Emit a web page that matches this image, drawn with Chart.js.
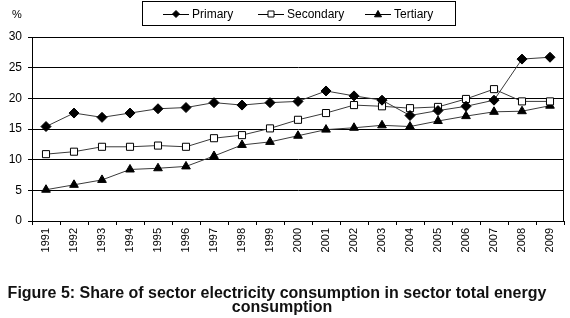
<!DOCTYPE html>
<html>
<head>
<meta charset="utf-8">
<script src="https://cdn.jsdelivr.net/npm/chart.js@4.4.0/dist/chart.umd.min.js"></script>
<style>
  html, body { margin: 0; padding: 0; background: #fff; }
  #c { display: block; }
</style>
</head>
<body>
<canvas id="c" width="570" height="318"></canvas>
<script>
// chart data
const years = ['1991','1992','1993','1994','1995','1996','1997','1998','1999','2000',
               '2001','2002','2003','2004','2005','2006','2007','2008','2009'];
const primary   = [15.4, 17.6, 16.9, 17.6, 18.3, 18.5, 19.3, 18.9, 19.3, 19.5, 21.2, 20.4, 19.7, 17.2, 18.0, 18.7, 19.7, 26.4, 26.7];
const secondary = [10.9, 11.3, 12.1, 12.1, 12.3, 12.1, 13.5, 14.0, 15.1, 16.5, 17.6, 18.9, 18.7, 18.4, 18.6, 19.9, 21.5, 19.5, 19.5];
const tertiary  = [5.1, 5.9, 6.7, 8.4, 8.6, 8.9, 10.6, 12.4, 12.9, 13.9, 14.9, 15.2, 15.6, 15.4, 16.3, 17.1, 17.8, 17.9, 18.8];
const seriesNames = ['Primary', 'Secondary', 'Tertiary'];
const yTicks = { min: 0, max: 30, step: 5 };
const yUnit = '%';
const titleLines = ['Figure 5: Share of sector electricity consumption in sector total energy', 'consumption'];

const FONT = "Arial, 'Liberation Sans', sans-serif";

function mark(ctx, style, x, y, r, fill) {
    ctx.save();
    ctx.beginPath();
    if (style === 'rectRot') {
        ctx.moveTo(x, y - r); ctx.lineTo(x + r, y); ctx.lineTo(x, y + r); ctx.lineTo(x - r, y);
    } else if (style === 'rect') {
        ctx.rect(x - r, y - r, 2 * r, 2 * r);
    } else {
        ctx.moveTo(x, y - r); ctx.lineTo(x + r, y + r * 0.8); ctx.lineTo(x - r, y + r * 0.8);
    }
    ctx.closePath();
    ctx.fillStyle = fill;
    ctx.fill();
    ctx.strokeStyle = '#000';
    ctx.lineWidth = 1;
    ctx.stroke();
    ctx.restore();
}

// frame, legend box, unit label and caption
const extras = {
    id: 'extras',
    beforeDatasetsDraw(chart) {
        const a = chart.chartArea, ctx = chart.ctx;
        ctx.save();
        ctx.strokeStyle = '#000';
        ctx.lineWidth = 1;
        ctx.strokeRect(Math.round(a.left) + 0.5, Math.round(a.top) + 0.5,
                       Math.round(a.right - a.left) - 1, Math.round(a.bottom - a.top));
        ctx.restore();
    },
    afterDraw(chart) {
        const ctx = chart.ctx;
        ctx.save();
        // legend
        ctx.strokeStyle = '#000';
        ctx.lineWidth = 1;
        ctx.strokeRect(142.5, 1.5, 313, 24);
        const lx = [163, 258, 365];
        const styles = [['rectRot', 3.5, '#000'], ['rect', 3, '#fff'], ['triangle', 3.5, '#000']];
        ctx.font = '12px ' + FONT;
        ctx.textBaseline = 'middle';
        chart.data.datasets.forEach((ds, i) => {
            const x = lx[i], y = 14;
            ctx.beginPath();
            ctx.moveTo(x, y + 0.5); ctx.lineTo(x + 26, y + 0.5);
            ctx.strokeStyle = '#000';
            ctx.stroke();
            mark(ctx, styles[i][0], x + 13, y, styles[i][1], styles[i][2]);
            ctx.fillStyle = '#000';
            ctx.textAlign = 'left';
            ctx.fillText(ds.label, x + 29, y + 1);
        });
        // unit
        ctx.font = '11px ' + FONT;
        ctx.fillText(yUnit, 12, 15);
        // caption
        ctx.font = 'bold 16px ' + FONT;
        ctx.textAlign = 'center';
        ctx.textBaseline = 'alphabetic';
        ctx.fillStyle = '#111';
        ctx.fillText(titleLines[0], 277, 298);
        ctx.fillText(titleLines[1], 282, 312);
        ctx.restore();
    }
};

const lineCol = '#3a3a3a';
new Chart(document.getElementById('c'), {
    type: 'line',
    data: {
        labels: years,
        datasets: [
            { label: seriesNames[0], data: primary, borderColor: lineCol, borderWidth: 1,
              pointStyle: 'rectRot', pointRadius: 5, pointBackgroundColor: '#000', pointBorderColor: '#000', tension: 0 },
            { label: seriesNames[1], data: secondary, borderColor: lineCol, borderWidth: 1,
              pointStyle: 'rect', pointRadius: 5, pointBackgroundColor: '#fff', pointBorderColor: '#000', tension: 0 },
            { label: seriesNames[2], data: tertiary, borderColor: lineCol, borderWidth: 1,
              pointStyle: 'triangle', pointRadius: 5, pointBackgroundColor: '#000', pointBorderColor: '#000', tension: 0 }
        ]
    },
    options: {
        responsive: false,
        animation: false,
        devicePixelRatio: 1,
        layout: { padding: { top: 37, right: 3.5, left: 0, bottom: 0 } },
        plugins: {
            legend: { display: false },
            tooltip: { enabled: false }
        },
        scales: {
            x: {
                offset: true,
                afterFit(s) { s.height = 97; },
                grid: { offset: true, drawOnChartArea: false, color: '#000', tickLength: 4 },
                border: { color: '#000' },
                ticks: { minRotation: 90, maxRotation: 90, autoSkip: false, padding: 3,
                         color: '#000', font: { family: FONT, size: 11 } }
            },
            y: {
                min: yTicks.min, max: yTicks.max,
                afterFit(s) { s.width = 32; },
                grid: { color: '#000', tickLength: 4 },
                border: { color: '#000' },
                ticks: { stepSize: yTicks.step, padding: 6, color: '#000', font: { family: FONT, size: 12 } }
            }
        }
    },
    plugins: [extras]
});
</script>
</body>
</html>
